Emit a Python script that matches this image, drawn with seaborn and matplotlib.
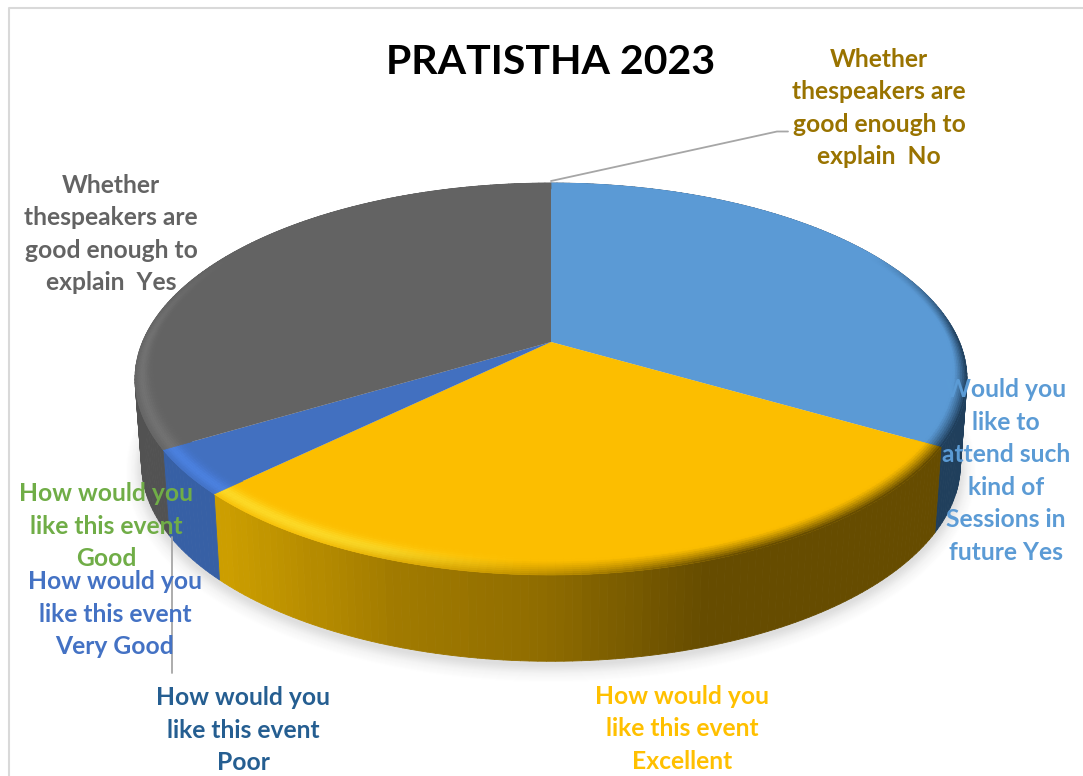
import numpy as np
import seaborn as sns
import matplotlib
matplotlib.use("Agg")
import matplotlib.pyplot as plt
from matplotlib.collections import PolyCollection
from matplotlib.colors import to_rgb

# ---------- data ----------
slice_labels = [
    "Would you\nlike to\nattend such\nkind of\nSessions in\nfuture Yes",
    "How would you\nlike this event\nPoor",
    "How would you\nlike this event\nExcellent",
    "How would you\nlike this event\nVery Good",
    "How would you\nlike this event\nGood",
    "Whether\nthespeakers are\ngood enough to\nexplain  Yes",
    "Whether\nthespeakers are\ngood enough to\nexplain  No",
]
slice_values = [33.4, 0.0, 29.3, 3.7, 0.0, 33.6, 0.0]
slice_colors = ["#5B9BD5", "#255E91", "#FFC000", "#4472C4", "#70AD47", "#636363", "#997300"]
label_x = [1006, 243, 682, 115, 106, 111, 879]
label_y = [471, 730, 729, 614, 526, 234, 108]
title_text = "PRATISTHA 2023"

# ---------- style ----------
sns.set_theme(style="white")
plt.rcParams["font.family"] = ["Lato", "DejaVu Sans"]

wall_dark = {"#5B9BD5": ("#203F5C", "#203F5C"), "#FFC000": ("#CC9E00", "#664C00"),
             "#4472C4": ("#3A66B0", "#335A9B"), "#636363": ("#5C5C5C", "#525252")}
rim_light = {"#5B9BD5": "#5B9BD5", "#FFC000": "#FFDC28", "#4472C4": "#4C82E2", "#636363": "#737373"}
top_color = {"#5B9BD5": "#5B9AD5", "#FFC000": "#FCBE00", "#4472C4": "#4270C0", "#636363": "#636363"}
yellow_ramp = sns.blend_palette(["#CC9E00", "#A37C00", "#8F6C00", "#664C00"], 64)

CX, K = 551.0, 0.189
TOP = dict(cy=342.0, A=189.0, B=408.5)
LOW = dict(cy=427.0, A=190.0, B=402.0)


def project(t, r, cy, A, B):
    u, v = r * np.sin(t), r * np.cos(t)
    f = 1 + K * v
    return CX + B * u / f, cy - A * v / f


def mix(a, b, w):
    a, b = np.array(to_rgb(a)), np.array(to_rgb(b))
    return tuple(a + (b - a) * float(np.clip(w, 0, 1)))


def wall_color(col, t):
    x, _ = project(t, 1.0, **TOP)
    if col == "#FFC000":
        i = np.clip((x - 221) / (700 - 221), 0, 1) * (len(yellow_ramp) - 1)
        return yellow_ramp[int(i)]
    w = np.clip((CX - x) / -400.0 + 1, 0, 1) if col == "#636363" else 0.5
    a, b = wall_dark[col]
    return mix(b, a, w) if col == "#636363" else mix(a, b, w)


fig = plt.figure(figsize=(10.83, 7.76), dpi=100, facecolor="white")
ax = fig.add_axes([0, 0, 1, 1])
ax.set_xlim(0, 1083)
ax.set_ylim(776, 0)
ax.axis("off")

# chart frame
ax.plot([9, 9, 1083], [776, 7.5, 7.5], color="#D9D9D9", lw=1.5, zorder=1)

# soft shadow under the pie
th = np.linspace(0, 2 * np.pi, 361)
shade = sns.blend_palette(["#FFFFFF", "#F4F4F4", "#DEDEDE"], 18)
for i, c in enumerate(shade):
    g = 1 - i / (len(shade) - 1)
    sx, sy = project(th, 1.0, LOW["cy"] + 4, LOW["A"] * (1 + 0.075 * g), LOW["B"] * (1 + 0.04 * g))
    ax.fill(sx, sy, color=c, lw=0, zorder=2)

# slices
edges = np.radians(np.concatenate([[0], np.cumsum(slice_values)]) * 360 / sum(slice_values))

wall_polys, wall_cols, rim_polys, rim_cols = [], [], [], []
steps = np.linspace(0, 1, 14)
for val, col, t0, t1 in zip(slice_values, slice_colors, edges[:-1], edges[1:]):
    if val <= 0:
        continue
    n = max(int(np.degrees(t1 - t0)), 2)
    ts = np.linspace(t0, t1, n + 1)
    for a, b in zip(ts[:-1], ts[1:]):
        x0, y0 = project(np.array([a, b]), 1.0, **TOP)
        x1, y1 = project(np.array([b, a]), 1.0, **LOW)
        wall_polys.append(np.c_[np.r_[x0, x1], np.r_[y0, y1]])
        wall_cols.append(wall_color(col, (a + b) / 2))
    # flat top of the slice
    tt = np.linspace(t0, t1, n * 2 + 1)
    xs, ys = project(tt, 1.0, **TOP)
    ax.fill(np.r_[CX, xs], np.r_[TOP["cy"], ys], color=top_color[col], lw=0, zorder=5)
    # bevel on the rim
    for a, b in zip(ts[:-1], ts[1:]):
        m = (a + b) / 2
        u, v = np.sin(m), np.cos(m)
        fade = np.clip((0.5 - v) / 0.45, 0, 1)
        wd = np.clip(0.6 + u, 0.1, 1) * fade
        wl = np.clip((-u - 0.05) / 0.3, 0, 1) * fade
        wcol = wall_color(col, m)
        dr = 0.045 + 0.045 * max(0.0, -v)
        for j, (q0, q1) in enumerate(zip(steps[:-1], steps[1:])):
            q = j / (len(steps) - 2)
            dark = wd * max(0, 1 - q / 0.6) ** 1.2
            bell = wl * np.exp(-((q - 0.3) / 0.3) ** 2)
            c = mix(mix(top_color[col], rim_light[col], bell), wcol, dark)
            xa, ya = project(np.array([a, b]), 1 - dr * q0, **TOP)
            xb, yb = project(np.array([b, a]), 1 - dr * q1, **TOP)
            rim_polys.append(np.c_[np.r_[xa, xb], np.r_[ya, yb]])
            rim_cols.append(c)

ax.add_collection(PolyCollection(wall_polys, facecolors=wall_cols, edgecolors=wall_cols, linewidths=0.6, zorder=4))
ax.add_collection(PolyCollection(rim_polys, facecolors=rim_cols, edgecolors=rim_cols, linewidths=0.4, zorder=6))

# leader lines
ax.plot([551, 777, 788], [181, 131.5, 131.5], color="#A6A6A6", lw=1.3, zorder=7)
ax.plot([172, 172], [537, 673], color="#A6A6A6", lw=1.3, zorder=7)

# labels
for text, col, lx, ly in zip(slice_labels, slice_colors, label_x, label_y):
    ax.text(lx, ly, text, color=col, ha="center", va="center", fontsize=17.7,
            fontweight="bold", linespacing=1.495, zorder=8)

ax.text(551, 62, title_text, color="black", ha="center", va="center", fontsize=29.5,
        fontweight="bold", zorder=8)

fig.savefig("out.png", dpi=100, facecolor="white")
